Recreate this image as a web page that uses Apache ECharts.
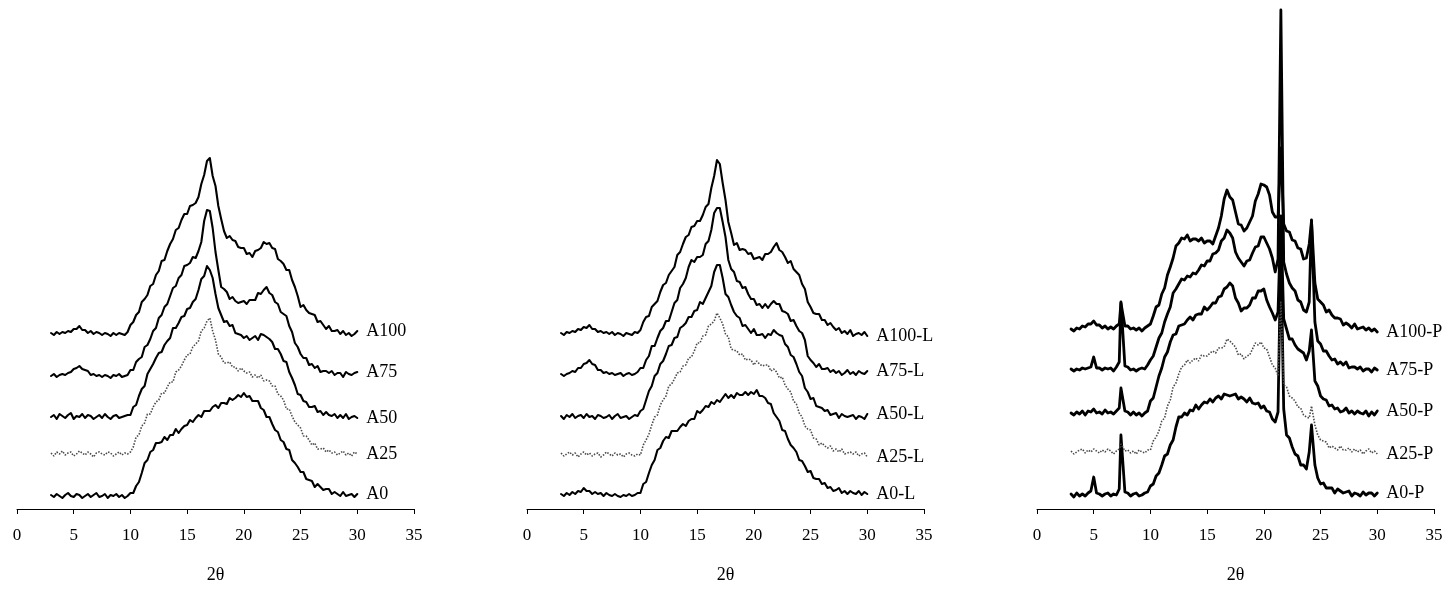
<!DOCTYPE html>
<html>
<head>
<meta charset="utf-8">
<script src="https://cdn.jsdelivr.net/npm/echarts@6/dist/echarts.min.js"></script>
<style>
html,body{margin:0;padding:0;background:#fff}
#chart{width:1454px;height:589px}
</style>
</head>
<body>
<div id="chart"></div>
<script>
// 2-theta sampling (degrees)
const theta = [3,3.25,3.5,3.75,4,4.25,4.5,4.75,5,5.25,5.5,5.75,6,6.25,6.5,6.75,7,7.25,7.5,7.75,8,8.25,8.5,8.75,9,9.25,9.5,9.75,10,10.25,10.5,10.75,11,11.25,11.5,11.75,12,12.25,12.5,12.75,13,13.25,13.5,13.75,14,14.25,14.5,14.75,15,15.25,15.5,15.75,16,16.25,16.5,16.75,17,17.25,17.5,17.75,18,18.25,18.5,18.75,19,19.25,19.5,19.75,20,20.25,20.5,20.75,21,21.25,21.5,21.75,22,22.25,22.5,22.75,23,23.25,23.5,23.75,24,24.25,24.5,24.75,25,25.25,25.5,25.75,26,26.25,26.5,26.75,27,27.25,27.5,27.75,28,28.25,28.5,28.75,29,29.25,29.5,29.75,30];
const thetaP = [3,3.25,3.5,3.75,4,4.25,4.5,4.75,5,5.25,5.5,5.75,6,6.25,6.5,6.75,7,7.25,7.4,7.75,8,8.25,8.5,8.75,9,9.25,9.5,9.75,10,10.25,10.5,10.75,11,11.25,11.5,11.75,12,12.25,12.5,12.75,13,13.25,13.5,13.75,14,14.25,14.5,14.75,15,15.25,15.5,15.75,16,16.25,16.5,16.75,17,17.25,17.5,17.75,18,18.25,18.5,18.75,19,19.25,19.5,19.75,20,20.25,20.5,20.75,21,21.25,21.5,21.75,22,22.25,22.5,22.75,23,23.25,23.5,23.75,24,24.2,24.5,24.75,25,25.25,25.5,25.75,26,26.25,26.5,26.75,27,27.25,27.5,27.75,28,28.25,28.5,28.75,29,29.25,29.5,29.75,30];

// x-axis ticks
const xTicks = [0,5,10,15,20,25,30,35];

// Panel 1: plain samples
const namesA = ['A0','A25','A50','A75','A100'];
const offsetsA = [13,55,92,133,175];
const iA0 = [1,-1,2,0,-2,1,3,0,-1,2,1,-2,0,2,-1,1,3,-1,0,2,-2,1,0,2,-1,1,-2,0,
  3,3,10,14,23,33,36,44,46,53,53,54,59,56,61,61,67,63,67,70,71,76,74,78,81,79,85,85,85,89,91,88,93,93,92,98,96,98,101,99,103,99,100,95,95,95,88,86,79,79,72,66,64,56,54,47,46,36,33,29,24,24,17,16,15,9,12,9,6,7,7,2,4,2,0,4,0,1,2,-1,2];
const iA25 = [1,-2,2,0,3,-1,1,2,-2,0,3,1,-1,2,0,-3,1,2,0,-1,2,1,-2,0,2,-1,1,0,
  2,7,17,19,28,31,40,40,47,52,54,61,61,67,72,72,82,84,88,94,99,100,107,110,113,123,126,133,136,123,114,100,97,91,91,92,87,87,83,86,83,81,82,77,79,76,79,73,74,73,68,68,60,58,54,45,45,38,32,29,26,18,18,14,9,11,5,5,6,2,4,1,2,-1,1,3,-1,1,-2,2,0];
const iA50 = [0,2,-2,3,1,-1,2,4,-2,1,0,3,-1,2,1,-2,0,2,-1,3,0,-2,1,2,-1,0,1,2,
  2,10,12,21,28,31,43,48,53,59,64,65,72,76,79,89,89,94,100,101,108,109,115,118,127,138,141,151,147,139,123,109,102,95,96,91,92,84,83,82,79,81,77,79,81,77,83,82,80,78,75,68,68,63,56,55,45,39,32,23,22,16,15,10,10,11,5,6,2,5,2,1,3,-1,2,-1,3,-2,0,1,-1];
const iA75 = [0,2,-1,1,2,1,3,4,7,8,10,7,6,5,1,2,0,1,-1,1,0,-2,1,0,2,-1,0,1,
  6,6,14,17,19,29,31,37,45,48,58,61,69,72,80,88,90,98,101,110,111,113,119,118,125,134,155,166,165,148,124,106,89,87,84,77,79,75,73,74,75,72,76,76,76,83,82,86,89,83,81,74,72,64,62,60,50,44,33,29,22,18,18,11,12,8,10,4,5,5,3,5,1,3,3,-1,4,2,1,3,4];
const iA100 = [1,-1,2,0,2,1,3,2,5,5,8,4,4,1,3,0,2,1,-1,1,0,-2,1,-1,1,0,-1,2,
  9,12,19,22,32,35,39,48,50,59,63,73,74,83,90,95,104,106,114,120,120,128,129,131,137,150,159,173,176,158,148,128,115,103,96,98,94,93,87,86,86,80,81,77,83,84,86,92,90,91,86,85,75,73,70,64,64,54,47,38,27,29,24,21,20,19,12,13,9,5,8,3,3,4,0,3,-1,1,-2,0,3];

// Panel 2: -L samples
const namesL = ['A0-L','A25-L','A50-L','A75-L','A100-L'];
const offsetsL = [14,54,92,134,175];
const iL0 = [1,-1,2,0,3,1,4,3,7,4,4,1,3,1,2,-1,2,0,-1,1,-1,-2,0,-1,1,-1,0,2,
  2,11,13,22,30,35,45,47,54,58,57,64,64,64,68,71,69,74,76,76,84,82,85,89,88,93,91,95,93,97,101,97,100,97,102,100,100,103,100,103,101,105,99,99,97,92,91,82,78,74,65,64,56,50,47,43,35,34,29,23,24,17,16,16,11,12,7,8,4,5,7,2,4,1,4,2,1,4,0,3,1];
const iL25 = [2,-1,1,3,0,2,-2,1,3,0,2,-1,1,2,-2,0,3,1,-1,2,0,1,-2,1,2,0,-1,1,
  0,10,15,21,30,38,40,50,55,59,69,71,76,82,83,89,90,97,98,104,112,112,119,120,129,131,134,142,137,131,121,118,106,105,104,100,101,95,96,95,90,94,91,89,90,90,84,86,83,77,78,70,66,63,54,51,42,38,29,26,25,17,16,10,12,9,7,9,4,6,3,6,1,2,3,1,3,-1,1,2,-2];
const iL50 = [1,-2,2,0,3,-1,1,2,-1,3,0,1,-2,2,1,-1,0,2,-2,1,3,-1,0,1,-2,0,2,1,
  6,8,17,26,31,41,44,53,56,63,71,72,79,80,89,91,94,100,100,106,107,115,113,119,125,131,145,152,152,139,123,120,112,105,101,99,91,92,88,84,88,82,82,83,79,83,82,87,84,82,81,73,70,62,60,53,45,41,29,25,18,19,11,10,9,6,7,2,3,4,-1,3,1,0,1,2,-2,1,0,-2,3];
const iL75 = [1,-1,1,2,4,3,7,7,11,12,15,11,10,5,5,2,3,1,2,0,1,2,-1,1,2,0,1,3,
  7,7,15,19,29,29,37,44,47,54,54,63,72,75,87,91,97,108,115,113,118,118,120,131,134,145,162,167,167,153,138,115,106,103,94,93,87,88,81,76,76,70,71,67,71,67,71,74,71,71,64,63,61,54,55,49,44,42,35,19,15,12,8,11,6,6,7,3,5,2,4,0,2,5,1,3,0,4,2,1,4];
const iL100 = [1,-1,2,1,3,2,5,4,7,6,9,5,5,2,3,1,2,0,2,-1,1,0,-2,1,0,-1,2,1,
  4,12,17,18,27,30,33,42,49,51,59,63,67,79,82,90,97,99,107,108,113,113,119,127,130,146,158,174,170,151,134,112,101,89,91,84,85,84,80,81,75,76,77,74,80,80,82,87,91,84,82,77,71,73,65,62,59,50,45,32,27,21,20,20,14,14,9,11,7,4,6,1,3,0,4,-2,0,1,-1,2,-2];

// Panel 3: -P samples
const namesP = ['A0-P','A25-P','A50-P','A75-P','A100-P'];
const offsetsP = [14,57,95,139,179];
const iP0 = [1,-2,2,-1,1,-1,2,4,18,2,1,-1,1,2,-1,1,0,6,60,3,2,-1,1,2,-1,0,2,3,
  9,11,19,22,30,39,41,50,55,68,78,78,82,80,85,84,90,86,90,93,92,96,93,97,99,96,101,100,99,100,101,96,98,96,93,97,92,91,92,87,89,84,83,76,73,83,249,86,60,57,48,41,39,30,30,26,43,70,30,17,11,12,7,7,7,2,6,4,2,3,4,-1,2,1,-1,3,0,2,2,-1,2];
const iP25 = [1,-2,0,2,3,-1,2,0,3,1,-1,2,0,3,1,-2,1,3,8,1,2,-1,1,-2,2,0,-1,2,
  2,11,15,21,31,34,46,52,65,69,78,85,87,92,89,92,94,91,97,96,96,99,101,99,104,104,105,113,111,108,105,97,98,93,96,97,103,109,107,110,104,103,95,87,84,76,151,67,65,56,54,51,45,44,37,35,34,46,27,17,12,11,10,4,6,4,2,6,2,2,4,0,3,0,2,-2,1,3,-1,1,-2];
const iP50 = [1,-1,2,0,3,-1,3,2,5,1,2,0,4,1,2,0,3,6,26,3,2,-1,2,-1,1,-2,1,3,
  13,16,27,38,46,57,62,72,79,80,88,89,90,94,97,94,99,100,100,107,104,107,111,111,117,118,125,127,131,128,116,111,103,106,106,109,116,116,123,123,125,114,107,101,94,102,198,95,85,75,75,69,65,63,61,54,63,84,33,28,18,15,14,8,9,5,6,2,3,6,1,3,0,3,1,0,3,-2,2,-1,3];
const iP75 = [1,-1,1,0,2,1,2,3,13,2,2,0,2,1,2,-1,3,8,68,4,3,0,1,-1,1,2,1,5,
  10,14,23,32,37,48,56,63,77,81,86,91,90,94,93,97,96,100,105,104,109,109,116,117,120,129,132,140,137,132,118,112,108,104,109,110,117,123,124,133,133,127,121,112,98,111,360,108,96,87,82,79,70,68,60,58,68,150,48,29,26,19,19,14,10,11,6,8,5,8,2,3,3,1,3,-1,1,1,-2,2,0];
const iP100 = [1,-1,2,1,4,3,6,6,9,5,5,2,4,1,3,1,4,6,27,4,4,1,2,0,2,-1,2,4,
  6,14,23,25,36,42,55,63,72,84,87,92,91,95,89,91,91,89,92,87,89,89,86,94,102,114,131,140,133,130,118,106,105,99,102,108,114,129,136,146,145,143,135,118,113,113,182,106,99,98,90,89,82,81,71,72,86,109,47,31,28,25,18,20,15,12,12,11,5,7,5,2,6,1,2,3,0,2,-1,1,-2];

const panels = [
  {left: 17,   x: theta,  names: namesA, offsets: offsetsA, values: [iA0, iA25, iA50, iA75, iA100], width: 2.1},
  {left: 527,  x: theta,  names: namesL, offsets: offsetsL, values: [iL0, iL25, iL50, iL75, iL100], width: 2.1},
  {left: 1037, x: thetaP, names: namesP, offsets: offsetsP, values: [iP0, iP25, iP50, iP75, iP100], width: 2.8}
];

const FONT = '"Liberation Serif", "Times New Roman", serif';
const grids = [], xAxes = [], yAxes = [], series = [];

panels.forEach((p, gi) => {
  grids.push({left: p.left, width: 397, top: 9, height: 500, containLabel: false});
  xAxes.push({
    gridIndex: gi, type: 'value', min: xTicks[0], max: xTicks[xTicks.length - 1], interval: 5,
    name: '2θ', nameLocation: 'middle', nameGap: 57,
    nameTextStyle: {fontFamily: FONT, fontSize: 18, color: '#000'},
    axisLine: {show: true, onZero: false, lineStyle: {color: '#000', width: 1}},
    axisTick: {show: true, inside: false, length: 5, lineStyle: {color: '#000'}},
    axisLabel: {fontFamily: FONT, fontSize: 17, color: '#000', margin: 18},
    splitLine: {show: false}
  });
  yAxes.push({gridIndex: gi, type: 'value', min: 0, max: 500, show: false});
  p.names.forEach((name, k) => {
    const dotted = k === 1;
    series.push({
      name: name, type: 'line', xAxisIndex: gi, yAxisIndex: gi,
      showSymbol: false, symbol: 'none', smooth: false,
      data: p.x.map((t, i) => [t, p.offsets[k] + p.values[k][i]]),
      lineStyle: dotted
        ? {color: '#4a4a4a', width: 1.6, type: [1.5, 1.5]}
        : {color: '#000', width: p.width, join: 'round', cap: 'round'},
      endLabel: {
        show: true, formatter: '{a}', distance: 9,
        fontFamily: FONT, fontSize: 18, color: '#000'
      },
      emphasis: {disabled: true}
    });
  });
});

const chart = echarts.init(document.getElementById('chart'), null, {renderer: 'canvas'});
chart.setOption({
  animation: false,
  backgroundColor: '#fff',
  grid: grids, xAxis: xAxes, yAxis: yAxes, series: series
});
</script>
</body>
</html>
